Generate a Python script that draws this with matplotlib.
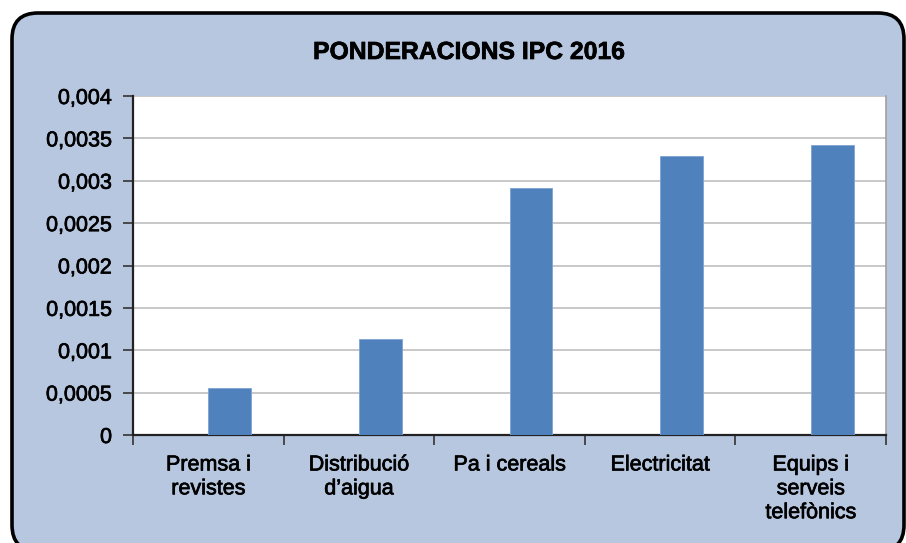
import matplotlib
matplotlib.use("Agg")
import matplotlib.pyplot as plt
import matplotlib.patheffects as pe
from matplotlib.patches import FancyBboxPatch
from matplotlib.transforms import IdentityTransform
from matplotlib.ticker import FuncFormatter, MultipleLocator
import numpy as np

categories = ["Premsa i\nrevistes", "Distribució\nd’aigua", "Pa i cereals", "Electricitat",
              "Equips i\nserveis\ntelefònics"]
values = [0.000555, 0.00113, 0.00291, 0.00329, 0.00342]
title = "PONDERACIONS IPC 2016"

plt.rcParams['font.family'] = ['Liberation Sans', 'DejaVu Sans']

W, H = 906, 543
fig = plt.figure(figsize=(W / 100, H / 100), dpi=100)
fig.patch.set_facecolor("white")

bg = "#B7C7E0"
box = FancyBboxPatch((12, -8), 892, 538, boxstyle="round,pad=0,rounding_size=26",
                     transform=IdentityTransform(), facecolor=bg, edgecolor="black",
                     linewidth=2.6, zorder=-10)
fig.patches.append(box)

ax = fig.add_axes([133 / W, 1 - 435 / H, (886 - 133) / W, (435 - 96) / H])
ax.set_zorder(1)
ax.set_facecolor("white")

x = np.arange(len(categories))
ax.bar(x, values, width=0.285, align="edge", color="#4F81BD",
       edgecolor="#7FA3D3", linewidth=0.6, zorder=3)

ax.set_xlim(-0.5, len(categories) - 0.5)
ax.set_ylim(0, 0.004)
ax.yaxis.set_major_locator(MultipleLocator(0.0005))
ax.yaxis.set_major_formatter(FuncFormatter(
    lambda v, p: "0" if abs(v) < 1e-12 else ("%.4f" % v).rstrip("0").replace(".", ",")))
ax.grid(axis="y", color="#C4C4C4", linewidth=1.3, zorder=1)
ax.set_axisbelow(True)

ax.set_xticks(np.arange(len(categories) + 1) - 0.5)
ax.set_xticklabels([])
ax.set_xticks(x, minor=True)
ax.set_xticklabels(categories, minor=True, fontsize=15.5, linespacing=1.18)
ax.tick_params(axis="x", which="minor", length=0, pad=14)
ax.tick_params(axis="x", which="major", length=7, width=1.2, direction="out", color="#333333")
ax.tick_params(axis="y", length=7, width=1.2, direction="out", labelsize=15.5, pad=8,
               color="#333333")

stroke = [pe.withStroke(linewidth=0.5, foreground="black")]
for lbl in ax.get_xticklabels(minor=True):
    lbl.set_verticalalignment("top")
    lbl.set_path_effects(stroke)
for lbl in ax.get_yticklabels():
    lbl.set_path_effects(stroke)

for s in ["left", "bottom"]:
    ax.spines[s].set_color("#222222")
    ax.spines[s].set_linewidth(1.6)
ax.spines["top"].set_visible(False)
ax.spines["right"].set_color("#A0A0A0")
ax.spines["right"].set_linewidth(1.2)

fig.text(469 / W, 1 - 52 / H, title, ha="center", va="center", fontsize=17.8,
         fontweight="bold", path_effects=stroke)

fig.savefig("out.png", dpi=100, facecolor="white")
